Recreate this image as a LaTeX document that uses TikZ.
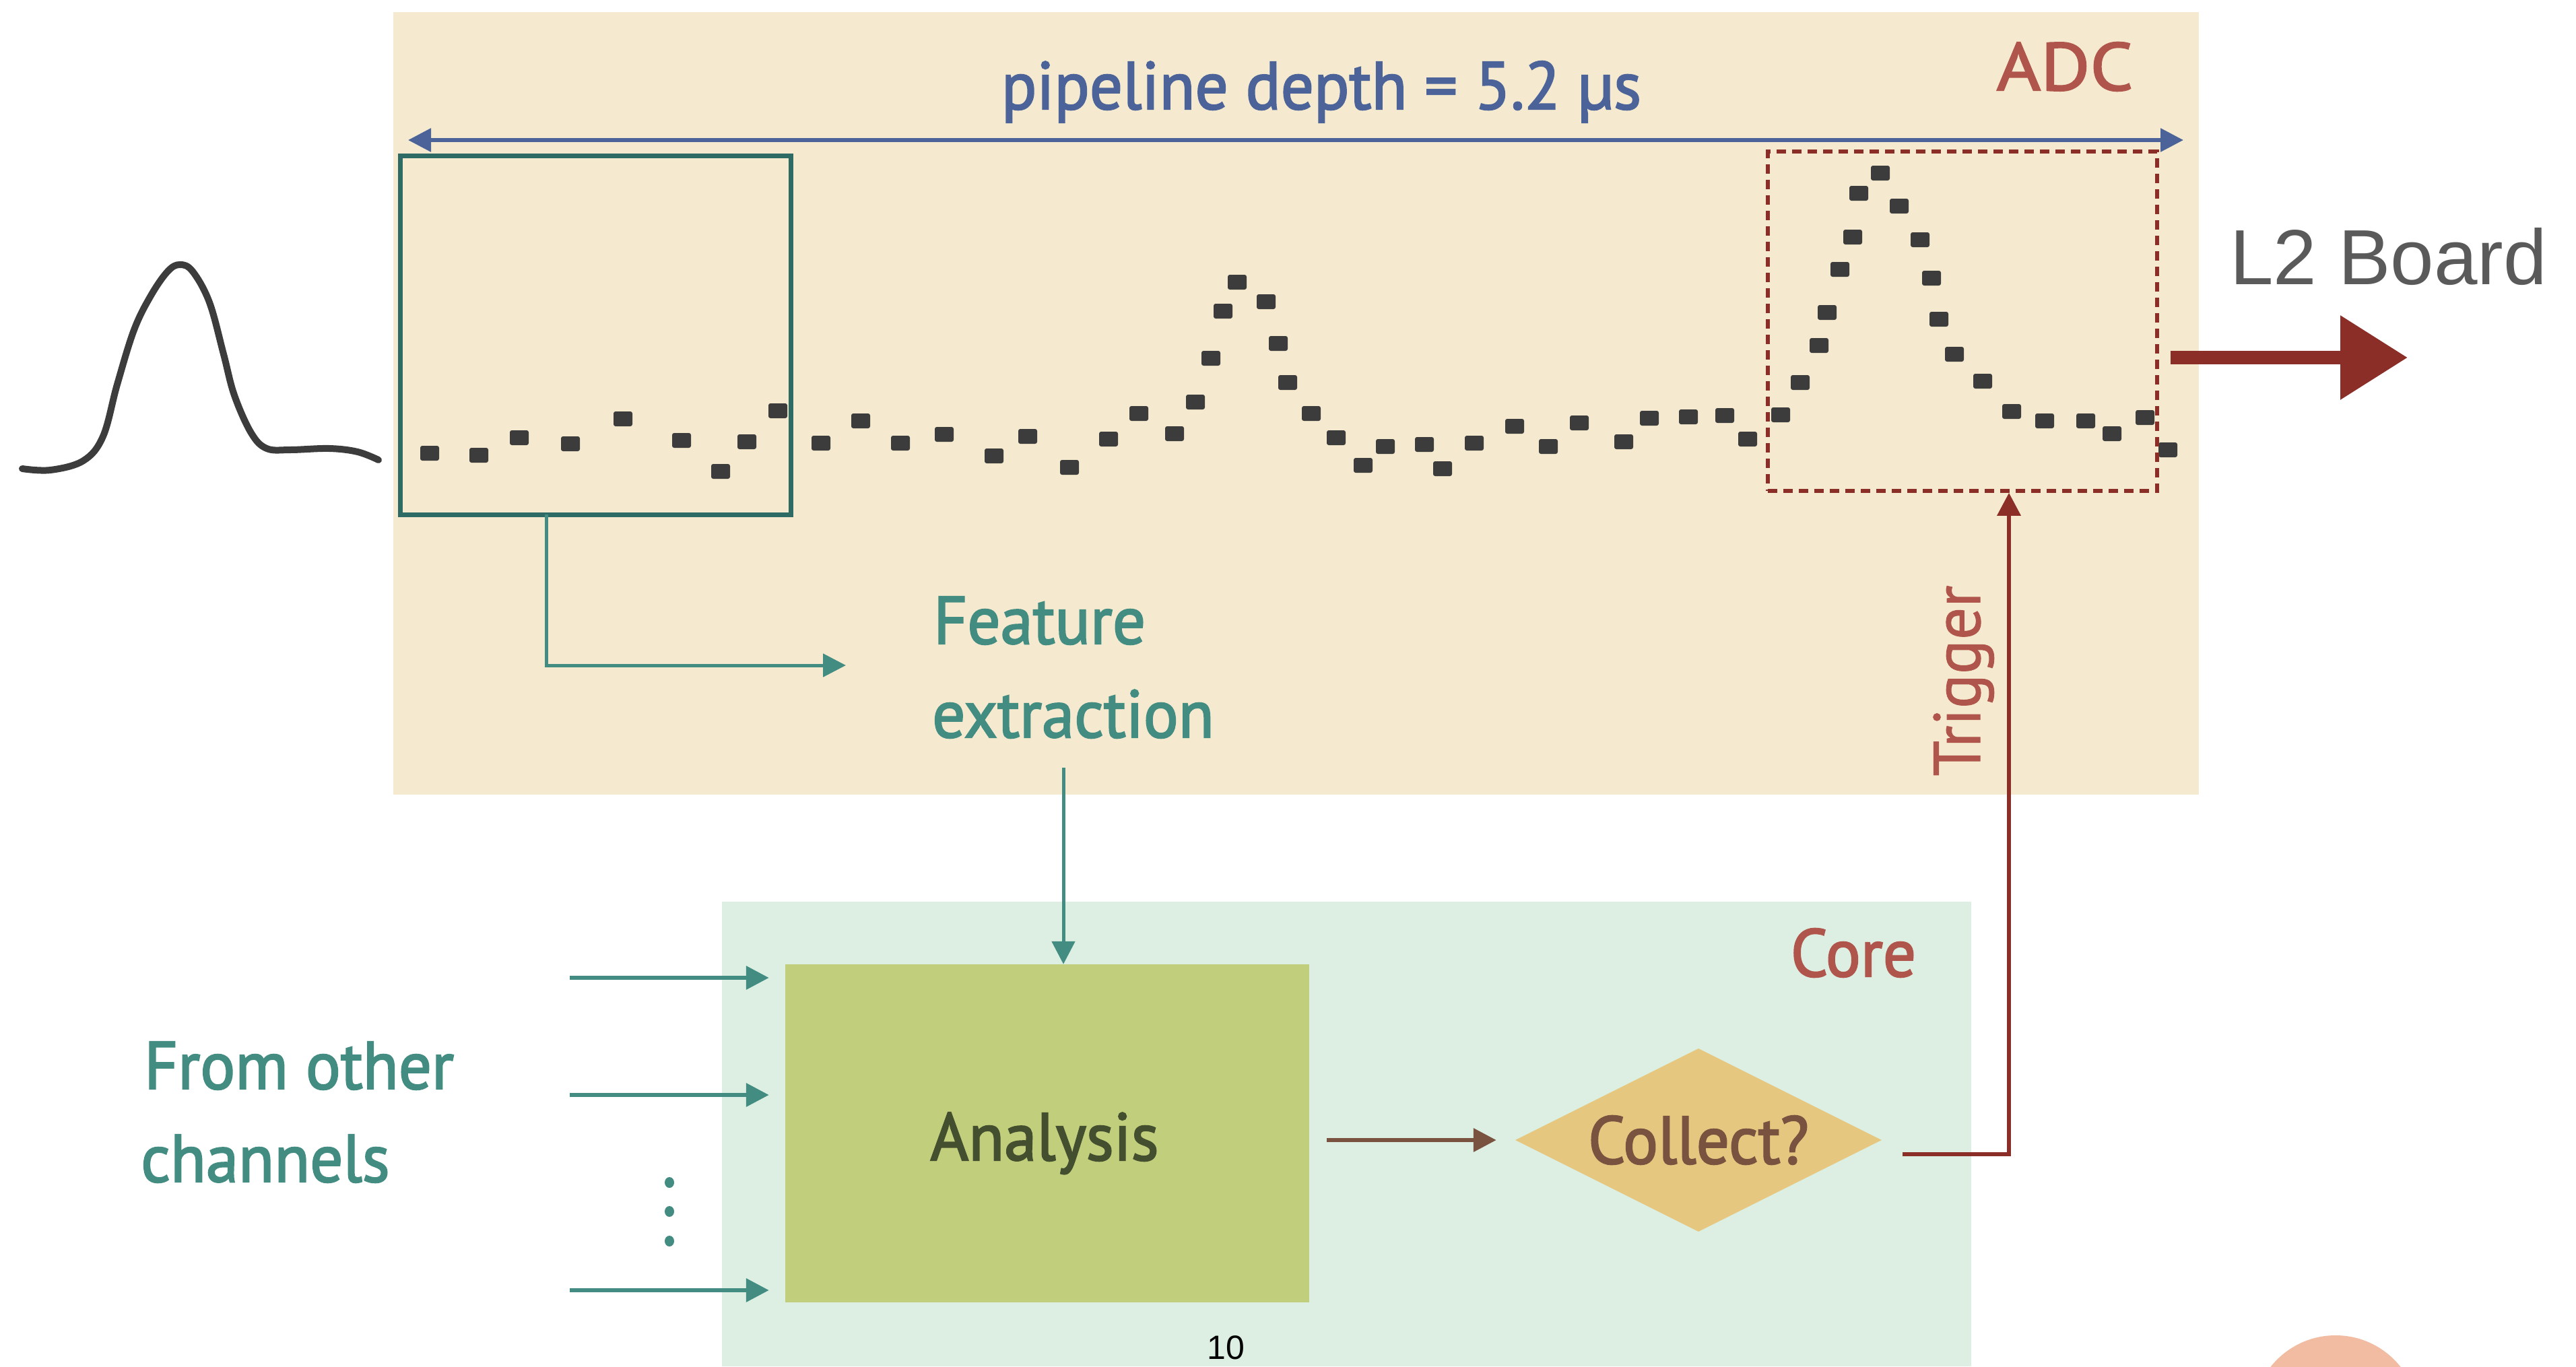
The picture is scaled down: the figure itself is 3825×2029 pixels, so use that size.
\documentclass[tikz,border=0pt]{standalone}
\usepackage{fontspec}
\setmainfont{PT Sans}[FakeBold=2.2,FakeStretch=0.97]
\newfontfamily\trigfont{PT Sans}[FakeBold=1,FakeStretch=0.97]
\newfontfamily\widefont{PT Sans}[FakeBold=2.2,FakeStretch=1.12]
\newfontfamily\lfont{Liberation Sans}
\usetikzlibrary{arrows.meta,shapes.geometric,calc}
\definecolor{adcbg}{HTML}{F5EACF}
\definecolor{corebg}{HTML}{DDEFE3}
\definecolor{tealc}{HTML}{428C82}
\definecolor{tealdark}{HTML}{2E6B64}
\definecolor{bluec}{HTML}{4B6399}
\definecolor{redlbl}{HTML}{B0554B}
\definecolor{darkred}{HTML}{8B2E28}
\definecolor{diafill}{HTML}{E5C77F}
\definecolor{coltext}{HTML}{7A5340}
\definecolor{anafill}{HTML}{C1CE7C}
\definecolor{anatext}{HTML}{434F2E}
\definecolor{dotgray}{HTML}{3C3C3C}
\definecolor{l2gray}{HTML}{5A5A5A}
\definecolor{peach}{HTML}{F2BCA3}
\begin{document}
\begin{tikzpicture}[x=1pt,y=-1pt,
  lbl/.style={font=\fontsize{100}{110}\selectfont, inner sep=0pt},
  tip/.style={-{Triangle[length=34pt,width=34pt]}},
  tealline/.style={draw=tealc, line width=5pt, tip},
  inarrow/.style={draw=tealc, line width=6.5pt, tip},
  dotmark/.style={fill=dotgray, rounded corners=3pt},
]
\clip (0,0) rectangle (3825,2029);
\useasboundingbox (0,0) rectangle (3825,2029);
\fill[white] (0,0) rectangle (3825,2029);

% backgrounds
\fill[adcbg] (584,18) rectangle (3265,1180);
\fill[corebg] (1072,1339) rectangle (2927,2029);
\fill[peach] (3468,2106) circle (123);

% labels of regions
\node[inner sep=0pt, font=\widefont\fontsize{100}{110}\selectfont, text=redlbl, anchor=base] (adc) at (3066,134) {ADC};
\node[lbl, text=redlbl, anchor=base] (core) at (2752,1450) {Core};

% pipeline arrow
\node[lbl, text=bluec, anchor=base] (pipe) at (1962,162) {pipeline depth = 5.2 µs};
\coordinate (pl) at (606,208);
\coordinate (pr) at (3242,208);
\draw[bluec, line width=6pt, {Triangle[length=34pt,width=34pt]}-{Triangle[length=34pt,width=34pt]}] (pl) -- (pr);

% input pulse
\draw[dotgray, line width=10pt, line cap=round, line join=round] plot[smooth, tension=0.6] coordinates {
 (33,696) (75,698) (124,684) (153,648) (174,571) (199,490) (224,439) (249,403) (267,393)
 (286,403) (311,449) (332,526) (348,587) (373,643) (396,666) (431,668) (489,666) (531,671) (562,683)};

% samples
\foreach \px/\py in {638/673,711/676,771/650,847/659,925/622,1012/654,1070/700,1109/656,1155/610,1219/658,1278/625,
 1337/658,1402/645,1476/677,1526/648,1588/694,1646/652,1691/614,1744/644,1775/597,1798/532,1816/462,1837/419,
 1880/448,1898/510,1912/568,1947/614,1984/650,2024/691,2057/663,2115/660,2142/696,2189/658,2249/633,2299/663,
 2345/628,2411/656,2449/621,2507/619,2561/617,2595/652,2644/616,2673/568,2701/513,2713/464,2732/400,2751/352,
 2760/287,2792/257,2820/306,2851/356,2868/413,2879/474,2902/526,2944/566,2987/611,3036/625,3097/625,3136/644,
 3185/620,3219/668}{
  \path[dotmark] (\px-14,\py-11) rectangle (\px+14,\py+11);
}

% window box
\node[draw=tealdark, line width=7pt, minimum width=580pt, minimum height=533pt, inner sep=0pt] (win) at (884,497.5) {};
% trigger window
\node[draw=darkred, line width=5.5pt, dash pattern=on 14pt off 9pt, minimum width=578pt, minimum height=504pt, inner sep=0pt] (trbox) at (2914,477) {};

% feature extraction
\node[lbl, text=tealc, anchor=base west] (feat1) at (1386,956) {Feature};
\node[lbl, text=tealc, anchor=base west] (feat2) at (1384,1095) {extraction};
\coordinate (wb) at (811,764);
\coordinate (ft) at (1256,988);
\draw[tealline] (wb) |- (ft);

% analysis
\node[fill=anafill, minimum width=778pt, minimum height=502pt, inner sep=0pt] (ana) at (1555,1683) {};
\node[lbl, text=anatext, anchor=base] (anat) at (1551,1723) {Analysis};
\coordinate (fx) at (1579,1140);
\draw[tealline] (fx) -- (fx |- ana.north);

% inputs
\node[lbl, text=tealc, anchor=base west] (from1) at (214,1617) {From other};
\node[lbl, text=tealc, anchor=base west] (from2) at (209,1755) {channels};
\foreach \yy/\n in {1452/a,1626/b,1916/c}{
  \coordinate (in\n) at (846,\yy);
  \draw[inarrow, shorten >=24pt] (in\n) -- (ana.west |- in\n);
}
\foreach \yy in {1756,1799,1843}{
  \fill[tealc] (994,\yy) ellipse (7 and 8);
}

% decision
\node[diamond, aspect=2, fill=diafill, minimum width=544pt, minimum height=272pt, inner sep=0pt, lbl, text=coltext] (col) at (2522,1693) {Collect?};
\draw[draw=coltext, line width=6.5pt, tip, shorten <=26pt, shorten >=28pt] (ana.east |- col.west) -- (col.west);

% trigger
\coordinate (cr) at (2825,1714);
\draw[draw=darkred, line width=6.5pt, tip] (cr) -| ($(trbox.south)+(69,0)$);
\node[inner sep=0pt, font=\trigfont\fontsize{98}{110}\selectfont, text=redlbl, rotate=90, anchor=base] (trig) at (2940,1011) {Trigger};

% L2 output
\coordinate (l2s) at (3223,531);
\coordinate (l2e) at (3575,531);
\draw[darkred, line width=20pt, -{Triangle[length=100pt,width=120pt]}] (l2s) -- (l2e);
\node[font=\lfont\fontsize{116}{120}\selectfont, text=l2gray, inner sep=0pt, anchor=base west] (l2) at (3311,422) {L2 Board};

% page number
\node[font=\lfont\fontsize{50}{50}\selectfont, text=black, inner sep=0pt, anchor=base] (pg) at (1820,2018) {10};
\end{tikzpicture}
\end{document}
